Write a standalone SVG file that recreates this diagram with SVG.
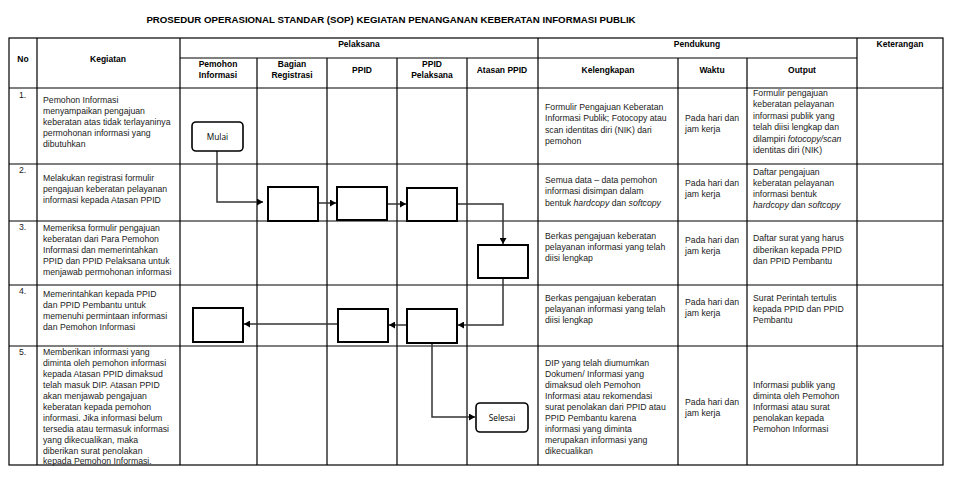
<svg xmlns="http://www.w3.org/2000/svg" width="953" height="477" viewBox="0 0 953 477">
<style>
.t{font-family:"Liberation Sans",Arial,sans-serif;font-size:8.7px;fill:#1a1a1a}
.h{font-family:"Liberation Sans",Arial,sans-serif;font-size:8.5px;font-weight:bold;fill:#000;text-anchor:middle}
.ti{font-family:"Liberation Sans",Arial,sans-serif;font-size:9.7px;font-weight:bold;fill:#000;text-anchor:middle}
.g{stroke:#000;stroke-width:1.2;fill:none}
.box{fill:#fff;stroke:#000;stroke-width:2}
.term{fill:#fff;stroke:#000;stroke-width:1.6}
.lbl{font-family:"Open Sans","Noto Sans",sans-serif;font-size:8.3px;fill:#000;text-anchor:middle}
.c{fill:none;stroke:#333;stroke-width:1.5}
.i{font-style:italic}
</style>
<defs>
<marker id="ah" markerUnits="userSpaceOnUse" markerWidth="7" markerHeight="7" refX="6" refY="3.5" orient="auto">
<path d="M0,0 L6,3.5 L0,7 z" fill="#000"/>
</marker>
</defs>
<rect width="953" height="477" fill="#fff"/>
<text class="ti" x="391" y="23">PROSEDUR OPERASIONAL STANDAR (SOP) KEGIATAN PENANGANAN KEBERATAN INFORMASI PUBLIK</text>
<g id="grid">
<rect class="g" x="9" y="38" width="934" height="427"/>
<path class="g" d="M180,58H857 M9,88H943 M9,164H943 M9,221H943 M9,285H943 M9,346H943"/>
<path class="g" d="M37,38V465 M180,38V465 M538,38V465 M857,38V465 M257,58V465 M327,58V465 M397,58V465 M467,58V465 M678,58V465 M747,58V465"/>
</g>
<g id="headers">
<text class="h" x="23" y="62">No</text>
<text class="h" x="108" y="62">Kegiatan</text>
<text class="h" x="359" y="47">Pelaksana</text>
<text class="h" x="697" y="47">Pendukung</text>
<text class="h" x="900" y="47">Keterangan</text>
<text class="h" x="218" y="67">Pemohon</text><text class="h" x="218" y="78">Informasi</text>
<text class="h" x="292" y="67">Bagian</text><text class="h" x="292" y="78">Registrasi</text>
<text class="h" x="362" y="73">PPID</text>
<text class="h" x="432" y="67">PPID</text><text class="h" x="432" y="78">Pelaksana</text>
<text class="h" x="502" y="73">Atasan PPID</text>
<text class="h" x="608" y="73">Kelengkapan</text>
<text class="h" x="712" y="73">Waktu</text>
<text class="h" x="802" y="73">Output</text>
</g>
<g id="numbers" class="t">
<text x="19" y="98">1.</text>
<text x="19" y="173">2.</text>
<text x="19" y="230">3.</text>
<text x="19" y="294">4.</text>
<text x="19" y="355">5.</text>
</g>
<g id="kegiatan" class="t">
<text><tspan x="43" y="103">Pemohon Informasi</tspan><tspan x="43" y="114">menyampaikan pengajuan</tspan><tspan x="43" y="125">keberatan atas tidak terlayaninya</tspan><tspan x="43" y="136">permohonan informasi yang</tspan><tspan x="43" y="147">dibutuhkan</tspan></text>
<text><tspan x="43" y="181">Melakukan registrasi formulir</tspan><tspan x="43" y="192">pengajuan keberatan pelayanan</tspan><tspan x="43" y="203">informasi kepada Atasan PPID</tspan></text>
<text><tspan x="43" y="231">Memeriksa formulir pengajuan</tspan><tspan x="43" y="242">keberatan dari Para Pemohon</tspan><tspan x="43" y="253">Informasi dan memerintahkan</tspan><tspan x="43" y="264">PPID dan PPID Pelaksana untuk</tspan><tspan x="43" y="275">menjawab permohonan informasi</tspan></text>
<text><tspan x="43" y="297">Memerintahkan kepada PPID</tspan><tspan x="43" y="308">dan PPID Pembantu untuk</tspan><tspan x="43" y="319">memenuhi permintaan informasi</tspan><tspan x="43" y="330">dan Pemohon Informasi</tspan></text>
<text><tspan x="43" y="355">Memberikan informasi yang</tspan><tspan x="43" y="366">diminta oleh pemohon informasi</tspan><tspan x="43" y="377">kepada Atasan PPID dimaksud</tspan><tspan x="43" y="388">telah masuk DIP. Atasan PPID</tspan><tspan x="43" y="399">akan menjawab pengajuan</tspan><tspan x="43" y="410">keberatan kepada pemohon</tspan><tspan x="43" y="421">informasi. Jika informasi belum</tspan><tspan x="43" y="432">tersedia atau termasuk informasi</tspan><tspan x="43" y="443">yang dikecualikan, maka</tspan><tspan x="43" y="454">diberikan surat penolakan</tspan><tspan x="43" y="464">kepada Pemohon Informasi.</tspan></text>
</g>
<g id="kelengkapan" class="t">
<text><tspan x="545" y="110">Formulir Pengajuan Keberatan</tspan><tspan x="545" y="121">Informasi Publik; Fotocopy atau</tspan><tspan x="545" y="133">scan identitas diri (NIK) dari</tspan><tspan x="545" y="144">pemohon</tspan></text>
<text><tspan x="545" y="183">Semua data – data pemohon</tspan><tspan x="545" y="194">informasi disimpan dalam</tspan><tspan x="545" y="206">bentuk <tspan class="i">hardcopy</tspan> dan <tspan class="i">softcopy</tspan></tspan></text>
<text><tspan x="545" y="239">Berkas pengajuan keberatan</tspan><tspan x="545" y="250">pelayanan informasi yang telah</tspan><tspan x="545" y="261">diisi lengkap</tspan></text>
<text><tspan x="545" y="301">Berkas pengajuan keberatan</tspan><tspan x="545" y="312">pelayanan informasi yang telah</tspan><tspan x="545" y="323">diisi lengkap</tspan></text>
<text><tspan x="545" y="366">DIP yang telah diumumkan</tspan><tspan x="545" y="377">Dokumen/ Informasi yang</tspan><tspan x="545" y="388">dimaksud oleh Pemohon</tspan><tspan x="545" y="399">Informasi atau rekomendasi</tspan><tspan x="545" y="410">surat penolakan dari PPID atau</tspan><tspan x="545" y="421">PPID Pembantu karena</tspan><tspan x="545" y="432">informasi yang diminta</tspan><tspan x="545" y="443">merupakan informasi yang</tspan><tspan x="545" y="454">dikecualikan</tspan></text>
</g>
<g id="waktu" class="t">
<text><tspan x="685" y="121">Pada hari dan</tspan><tspan x="685" y="132">jam kerja</tspan></text>
<text><tspan x="685" y="186">Pada hari dan</tspan><tspan x="685" y="197">jam kerja</tspan></text>
<text><tspan x="685" y="243">Pada hari dan</tspan><tspan x="685" y="254">jam kerja</tspan></text>
<text><tspan x="685" y="305">Pada hari dan</tspan><tspan x="685" y="316">jam kerja</tspan></text>
<text><tspan x="685" y="405">Pada hari dan</tspan><tspan x="685" y="416">jam kerja</tspan></text>
</g>
<g id="output" class="t">
<text><tspan x="753" y="96">Formulir pengajuan</tspan><tspan x="753" y="107">keberatan pelayanan</tspan><tspan x="753" y="119">informasi publik yang</tspan><tspan x="753" y="130">telah diisi lengkap dan</tspan><tspan x="753" y="142">dilampiri <tspan class="i">fotocopy/scan</tspan></tspan><tspan x="753" y="153">identitas diri (NIK)</tspan></text>
<text><tspan x="753" y="175">Daftar pengajuan</tspan><tspan x="753" y="186">keberatan pelayanan</tspan><tspan x="753" y="197">informasi bentuk</tspan><tspan x="753" y="208"><tspan class="i">hardcopy</tspan> dan <tspan class="i">softcopy</tspan></tspan></text>
<text><tspan x="753" y="241">Daftar surat yang harus</tspan><tspan x="753" y="253">diberikan kepada PPID</tspan><tspan x="753" y="264">dan PPID Pembantu</tspan></text>
<text><tspan x="753" y="301">Surat Perintah tertulis</tspan><tspan x="753" y="312">kepada PPID dan PPID</tspan><tspan x="753" y="323">Pembantu</tspan></text>
<text><tspan x="753" y="388">Informasi publik yang</tspan><tspan x="753" y="399">diminta oleh Pemohon</tspan><tspan x="753" y="410">Informasi atau surat</tspan><tspan x="753" y="421">penolakan kepada</tspan><tspan x="753" y="432">Pemohon Informasi</tspan></text>
</g>
<g id="connectors">
<path class="c" d="M217,151V202H263" marker-end="url(#ah)"/>
<path class="c" d="M318,203H336" marker-end="url(#ah)"/>
<path class="c" d="M387,204H406" marker-end="url(#ah)"/>
<path class="c" d="M457,204H503V244" marker-end="url(#ah)"/>
<path class="c" d="M503,278V325H458" marker-end="url(#ah)"/>
<path class="c" d="M407,325H389" marker-end="url(#ah)"/>
<path class="c" d="M338,324H244" marker-end="url(#ah)"/>
<path class="c" d="M432,343V417H475" marker-end="url(#ah)"/>
</g>
<g id="mulai"><rect class="term" x="192" y="122" width="51" height="29" rx="4"/><text class="lbl" x="217.5" y="140">Mulai</text></g>
<g id="registrasi"><rect class="box" x="268" y="187" width="50" height="34"/></g>
<g id="ppid-catat"><rect class="box" x="337" y="187" width="50" height="33"/></g>
<g id="ppid-pelaksana-catat"><rect class="box" x="407" y="188" width="50" height="33"/></g>
<g id="atasan-periksa"><rect class="box" x="478" y="245" width="50" height="33"/></g>
<g id="ppid-pelaksana-perintah"><rect class="box" x="407" y="309" width="50" height="34"/></g>
<g id="ppid-perintah"><rect class="box" x="338" y="309" width="50" height="33"/></g>
<g id="pemohon-terima"><rect class="box" x="193" y="308" width="50" height="34"/></g>
<g id="selesai"><rect class="term" x="476" y="403" width="52" height="29" rx="4"/><text class="lbl" x="502" y="420.5">Selesai</text></g>
</svg>
